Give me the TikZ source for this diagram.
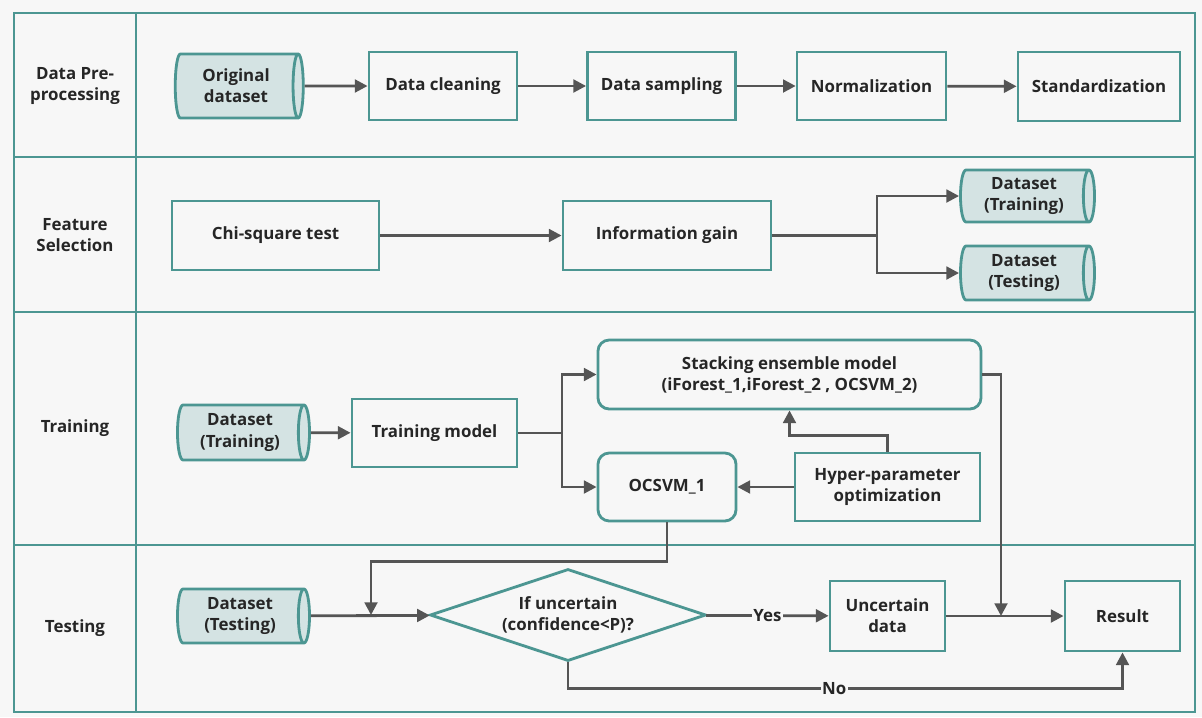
\documentclass[tikz,border=0pt]{standalone}
\usepackage{fontspec}
\setmainfont{Open Sans}
\usepackage{tikz}
\usetikzlibrary{shapes.geometric,arrows.meta}
\definecolor{tealline}{RGB}{76, 150, 146}
\definecolor{tealfill}{RGB}{212, 227, 227}
\definecolor{arrowgray}{RGB}{85, 85, 85}
\definecolor{paper}{RGB}{247, 247, 247}
\definecolor{ink}{RGB}{38, 38, 38}

\begin{document}
\begin{tikzpicture}[x=0.025cm, y=-0.025cm,
    every node/.style={font=\fontsize{12}{15}\selectfont\bfseries, text=ink},
    proc/.style={draw=tealline, line width=2pt, rectangle, align=center},
    rproc/.style={proc, rounded corners=8pt},
    store/.style={draw=tealline, fill=tealfill, line width=2pt, cylinder,
        aspect=0.3, align=center, inner sep=0pt},
    arr/.style={draw=arrowgray, line width=2pt, -{Triangle[length=9pt,width=9pt]}},
    lane/.style={draw=tealline, line width=2pt}]

    \useasboundingbox[fill=paper] (0,0) rectangle (1202,717);

    % lanes
    \draw[lane] (14,13) rectangle (1195,712);
    \draw[lane] (136,13) -- (136,712);
    \draw[lane] (14,157) -- (1195,157);
    \draw[lane] (14,312) -- (1195,312);
    \draw[lane] (14,545) -- (1195,545);
    \node[align=center] (lpre) at (75,86) {Data Pre-\\processing};
    \node[align=center] (lfeat) at (75,235) {Feature\\Selection};
    \node (ltrain) at (75,428) {Training};
    \node (ltest) at (75,628) {Testing};

    % data pre-processing
    \node[store, minimum height=3.2cm, minimum width=1.6cm] (orig) at (236,86) {Original\\dataset};
    \node[proc, minimum width=3.7cm, minimum height=1.7cm] (clean) at (443,86) {Data cleaning};
    \node[proc, minimum width=3.7cm, minimum height=1.7cm] (sampl) at (661.5,86) {Data sampling};
    \node[proc, minimum width=3.72cm, minimum height=1.7cm] (norm) at (871.5,86) {Normalization};
    \node[proc, minimum width=4.05cm, minimum height=1.72cm] (stand) at (1099,86.5) {Standardization};
    \draw[arr] (orig) -- (clean);
    \draw[arr] (clean) -- (sampl);
    \draw[arr] (sampl) -- (norm);
    \draw[arr] (norm) -- (stand);

    % feature selection
    \node[proc, minimum width=5.175cm, minimum height=1.725cm] (chi) at (275.5,235.5) {Chi-square test};
    \node[proc, minimum width=5.2cm, minimum height=1.725cm] (info) at (667,235.5) {Information gain};
    \node[store, minimum height=3.35cm, minimum width=1.3cm] (dtrainA) at (1024,196) {Dataset\\(Training)};
    \node[store, minimum height=3.35cm, minimum width=1.35cm] (dtestA) at (1024,273) {Dataset\\(Testing)};
    \coordinate (splitA) at (877,235.5);
    \draw[arr] (chi) -- (info);
    \draw[arr] (info.east) -- (splitA) |- (dtrainA.west);
    \draw[arr] (splitA) |- (dtestA.west);

    % training
    \node[store, minimum height=3.3cm, minimum width=1.375cm] (dtrainB) at (240,432.5) {Dataset\\(Training)};
    \node[proc, minimum width=4.125cm, minimum height=1.7cm] (train) at (434.5,433) {Training model};
    \node[rproc, minimum width=9.575cm, minimum height=1.725cm] (stack) at (789.5,374.5)
        {Stacking ensemble model\\(iForest\_1,iForest\_2 , OCSVM\_2)};
    \node[rproc, minimum width=3.45cm, minimum height=1.7cm] (ocsvm) at (667,487) {OCSVM\_1};
    \node[proc, minimum width=4.625cm, minimum height=1.7cm] (hyper) at (887.5,487) {Hyper-parameter\\optimization};
    \coordinate (splitB) at (562,433);
    \draw[arr] (dtrainB) -- (train);
    \draw[arr] (train.east) -- (splitB) |- (stack.west);
    \draw[arr] (splitB) |- (ocsvm.west);
    \draw[arr] (hyper) -- (ocsvm);
    \draw[arr] (hyper.north) -- ++(0,-16) -| (stack.south);

    % testing
    \node[store, minimum height=3.3cm, minimum width=1.35cm] (dtestB) at (240,616) {Dataset\\(Testing)};
    \node[diamond, draw=tealline, line width=2pt, align=center, inner sep=-0.7cm,
        minimum width=6.9cm, minimum height=2.3cm] (ifunc) at (568,615) {If uncertain\\(confidence{<}P)?};
    \node[proc, minimum width=2.875cm, minimum height=1.75cm] (unc) at (887.5,616) {Uncertain\\data};
    \node[proc, minimum width=2.875cm, minimum height=1.75cm] (res) at (1122.5,616) {Result};
    \coordinate (joinA) at (371,615);
    \coordinate (joinB) at (1001,616);
    \draw[arr] (dtestB) -- (ifunc);
    \draw[arr] (ifunc) -- node[fill=paper, inner sep=1pt] {Yes} (unc);
    \draw[arr] (unc) -- (res);
    \draw[arr] (ifunc.south) -- ++(0,26) -| node[pos=0.24, fill=paper, inner sep=1pt] {No} (res.south);
    \draw[arr] (ocsvm.south) -- ++(0,39) -| (joinA);
    \draw[arr] (stack.east) -| (joinB);
\end{tikzpicture}
\end{document}
